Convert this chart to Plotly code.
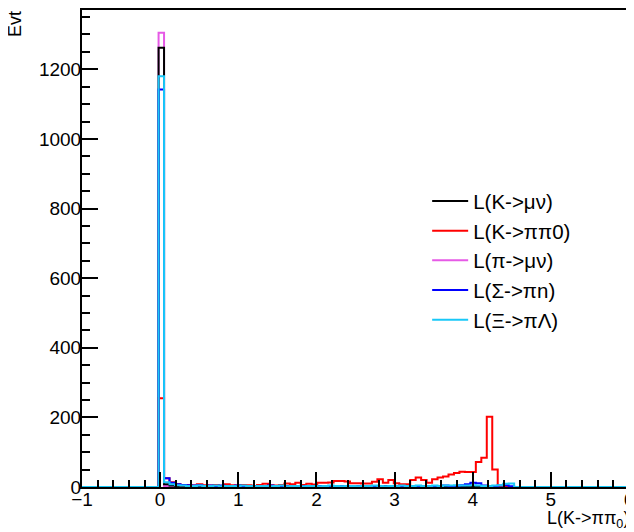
import plotly.graph_objects as go
import numpy as np

# Histogram binning: 100 bins from -1 to 6
bin_lo, bin_hi, n_bins = -1.0, 6.0, 100
first_bin = 14  # index of first stored bin (x = -0.02)

# Bin contents for bins 14..79 (everything else empty)
black = [1262, 8, 4, 3, 2, 3, 2, 2, 3, 2, 1, 2, 2, 1, 2, 2, 1, 2, 2, 1,
         2, 1, 2, 2, 1, 2, 1, 2, 1, 1, 2, 1, 2, 1, 1, 2, 1, 1, 2, 1,
         1, 2, 1, 1, 2, 1, 1, 2, 1, 2, 1, 2, 1, 1, 2, 1, 1, 1, 1, 1,
         1, 0, 1, 0, 0, 0]
red = [255, 25, 14, 8, 5, 6, 4, 8, 5, 4, 6, 3, 8, 5, 4, 6, 5, 3, 6, 9,
       5, 4, 6, 10, 8, 12, 6, 9, 7, 12, 12, 13, 17, 17, 16, 11, 11, 10, 10, 15,
       22, 12, 20, 11, 8, 8, 20, 27, 20, 12, 22, 27, 30, 36, 40, 44, 43, 43, 72, 84,
       202, 50, 0, 0, 0, 0]
magenta = [1305, 3, 1, 1, 0, 1, 0, 1, 0, 0, 1, 0, 0, 1, 0, 0, 0, 1, 0, 0,
           1, 0, 0, 0, 1, 0, 0, 0, 0, 1, 0, 0, 0, 0, 1, 0, 0, 0, 0, 0,
           1, 0, 0, 0, 0, 0, 1, 0, 0, 0, 0, 0, 0, 0, 0, 0, 0, 0, 0, 0,
           0, 0, 0, 0, 0, 0]
blue = [1142, 25, 12, 8, 6, 5, 4, 5, 3, 4, 3, 4, 3, 2, 4, 3, 2, 3, 3, 2,
        4, 3, 2, 3, 2, 3, 2, 3, 2, 3, 2, 2, 3, 2, 3, 2, 2, 3, 2, 2,
        3, 2, 2, 3, 2, 2, 3, 2, 3, 2, 3, 2, 4, 3, 3, 5, 8, 12, 11, 4,
        3, 2, 4, 5, 2, 0]
cyan = [1180, 14, 8, 5, 4, 3, 3, 4, 3, 3, 4, 2, 3, 3, 2, 4, 3, 2, 3, 3,
        2, 3, 4, 2, 3, 3, 2, 3, 3, 2, 3, 4, 3, 2, 3, 3, 2, 3, 3, 4,
        3, 2, 3, 3, 4, 3, 3, 4, 3, 3, 4, 3, 4, 4, 5, 4, 4, 5, 4, 3,
        3, 4, 5, 9, 10, 0]

names = ["L(K->μν)", "L(K->ππ0)", "L(π->μν)", "L(Σ->πn)", "L(Ξ->πΛ)"]
colors = ["#000000", "#ff0000", "#e65ae6", "#0000ff", "#19c8f8"]
series = [black, red, magenta, blue, cyan]
draw_order = [2, 0, 1, 3, 4]  # magenta below black; cyan on top

bw = (bin_hi - bin_lo) / n_bins


def step_xy(vals):
    edges = bin_lo + bw * (first_bin + np.arange(len(vals) + 1))
    xs = [bin_lo] + list(edges) + [bin_hi]
    ys = [0] + list(vals) + [0, 0]
    return xs, ys


fig = go.Figure()
for idx in draw_order:
    xs, ys = step_xy(series[idx])
    fig.add_trace(go.Scatter(
        x=xs, y=ys, mode="lines", line_shape="hv",
        line=dict(color=colors[idx], width=2),
        name=names[idx], legendrank=idx + 1, legendgroup=f"g{idx}",
    ))

font = "Liberation Sans, Arial, sans-serif"
# page body has an 8px margin, so the figure is sized to 626x524
fig.update_layout(
    width=626, height=524,
    margin=dict(l=74, r=5, t=2, b=45, autoexpand=False),
    paper_bgcolor="white", plot_bgcolor="white",
    font=dict(family=font, size=18, color="black"),
    showlegend=True,
    legend=dict(
        x=0.631, y=0.641, xanchor="left", yanchor="top",
        bgcolor="rgba(0,0,0,0)", borderwidth=0,
        font=dict(family=font, size=20.5, color="black"),
        traceorder="grouped", tracegroupgap=0, itemwidth=36,
    ),
    xaxis=dict(
        range=[-1, 6], dtick=1, tick0=0, automargin=False,
        ticks="inside", ticklen=15, tickwidth=2, tickcolor="black",
        minor=dict(dtick=0.2, ticks="inside", ticklen=7, tickwidth=2, tickcolor="black"),
        showline=True, linecolor="black", linewidth=2, mirror=True,
        showgrid=False, zeroline=False, ticklabelstandoff=-6,
        ticklabeloverflow="allow",
        tickfont=dict(family=font, size=19),
    ),
    yaxis=dict(
        range=[0, 1370.3], dtick=200, tick0=0, automargin=False,
        ticks="inside", ticklen=16, tickwidth=2, tickcolor="black",
        minor=dict(dtick=50, ticks="inside", ticklen=8, tickwidth=2, tickcolor="black"),
        showline=True, linecolor="black", linewidth=2, mirror=True,
        showgrid=False, zeroline=False, ticklabelstandoff=-5,
        ticklabeloverflow="allow",
        tickfont=dict(family=font, size=19),
    ),
)

fig.add_annotation(
    text="L(K->ππ<sub>0</sub>)", xref="paper", yref="paper",
    x=1.004, y=-0.040, xanchor="right", yanchor="top", showarrow=False,
    font=dict(family=font, size=18, color="black"),
)
fig.add_annotation(
    text="Evt", xref="paper", yref="paper", textangle=-90,
    x=-0.1225, y=0.939, xanchor="center", yanchor="bottom", showarrow=False,
    font=dict(family=font, size=18, color="black"),
)

fig.write_html("out.html")
